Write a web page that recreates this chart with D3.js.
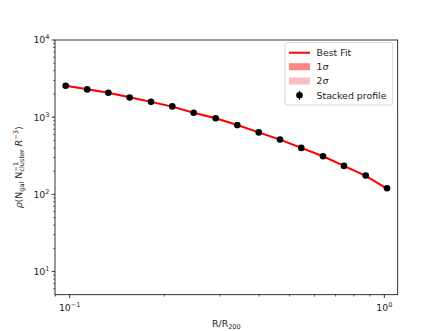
<!DOCTYPE html>
<html>
<head>
<meta charset="utf-8">
<script src="https://cdn.jsdelivr.net/npm/d3@7"></script>
<style>
  body { margin: 0; background: #fff; }
  svg { display: block; font-family: "DejaVu Sans", sans-serif; }
  text { white-space: pre; }
</style>
</head>
<body>
<div id="vis-container"></div>
<script>
// stacked profile
var radius = [0.0971, 0.1137, 0.1327, 0.1551, 0.1813, 0.2119, 0.2478, 0.2911,
              0.3409, 0.3989, 0.4661, 0.5446, 0.6385, 0.7443, 0.8727, 1.020];
var density = [2550, 2290, 2070, 1800, 1580, 1380, 1140, 970,
               790, 635, 515, 400, 312, 234, 176, 120];
var densityErr = [40, 35, 30, 25, 22, 20, 17, 14, 12, 10, 8, 7, 6, 5, 4, 3];
// best fit (the sigma bands are too narrow to see)
var fitValues = [2560, 2300, 2070, 1810, 1580, 1370, 1145, 970,
                 792, 636, 512, 400, 312, 234, 174, 119];
var band1 = 0.012;
var band2 = 0.025;
var xTicks = [0.1, 1];
var xTickExp = ["\u22121", "0"];
var yTicks = [10, 100, 1000, 10000];
var yTickExp = ["1", "2", "3", "4"];
var legendItems = ["Best Fit", "1\u03c3", "2\u03c3", "Stacked profile"];

var W = 431, H = 331;
var margin = {top: 40, right: 33.3, bottom: 36.3, left: 55};
var width = W - margin.left - margin.right,
    height = H - margin.top - margin.bottom;
var fs = 9.4;

var svg = d3.select("#vis-container").append("svg")
    .attr("width", W).attr("height", H);
var g = svg.append("g")
    .attr("transform", "translate(" + margin.left + "," + margin.top + ")");

var x = d3.scaleLog().domain([0.0898, 1.1031]).range([0, width]);
var y = d3.scaleLog().domain([5.02, 10000]).range([height, 0]);

// text with sub/superscripts, laid out piece by piece
function richText(parent, pieces, px, py, anchor) {
  var grp = parent.append("g");
  var cx = 0, stackStart = null, stackW = 0;
  pieces.forEach(function(p) {
    var size = p.s ? fs * 0.7 : fs;
    var dy = p.s === "sup" ? -fs * 0.42 : (p.s === "sub" ? fs * 0.22 : 0);
    var t = grp.append("text")
      .attr("font-size", size)
      .attr("y", dy)
      .attr("fill", "#262626")
      .attr("xml:space", "preserve")
      .style("font-style", p.it ? "italic" : "normal")
      .text(p.t);
    if (p.stack === "end") {
      t.attr("x", stackStart);
      var w = t.node().getComputedTextLength();
      cx = stackStart + Math.max(w, stackW);
      stackStart = null;
    } else {
      t.attr("x", cx);
      var w2 = p.t === " " ? size * 0.32 : t.node().getComputedTextLength();
      if (p.stack === "start") { stackStart = cx; stackW = w2; }
      cx += w2;
    }
  });
  var off = anchor === "middle" ? -cx / 2 : (anchor === "end" ? -cx : 0);
  grp.selectAll("text").attr("x", function() { return +d3.select(this).attr("x") + off; });
  grp.attr("transform", "translate(" + px + "," + py + ")");
  return grp;
}

// minor ticks
var xMinor = [];
[0.01, 0.1].forEach(function(b) { for (var i = 2; i <= 9; i++) xMinor.push(b * i); });
xMinor = xMinor.filter(function(v) { return v >= x.domain()[0] && v <= x.domain()[1]; });
var yMinor = [];
[1, 10, 100, 1000].forEach(function(b) { for (var i = 2; i <= 9; i++) yMinor.push(b * i); });
yMinor = yMinor.filter(function(v) { return v >= y.domain()[0] && v <= y.domain()[1]; });

g.selectAll(".xminor").data(xMinor).enter().append("line")
  .attr("x1", function(d) { return x(d); }).attr("x2", function(d) { return x(d); })
  .attr("y1", height).attr("y2", height + 1.9)
  .attr("stroke", "#000").attr("stroke-width", 0.6);
g.selectAll(".yminor").data(yMinor).enter().append("line")
  .attr("y1", function(d) { return y(d); }).attr("y2", function(d) { return y(d); })
  .attr("x1", 0).attr("x2", -1.9)
  .attr("stroke", "#000").attr("stroke-width", 0.6);

// major ticks
g.selectAll(".xmajor").data(xTicks).enter().append("line")
  .attr("x1", function(d) { return x(d); }).attr("x2", function(d) { return x(d); })
  .attr("y1", height).attr("y2", height + 3.3)
  .attr("stroke", "#000").attr("stroke-width", 0.8);
g.selectAll(".ymajor").data(yTicks).enter().append("line")
  .attr("y1", function(d) { return y(d); }).attr("y2", function(d) { return y(d); })
  .attr("x1", 0).attr("x2", -3.3)
  .attr("stroke", "#000").attr("stroke-width", 0.8);

xTicks.forEach(function(d, i) {
  richText(g, [{t: "10"}, {t: xTickExp[i], s: "sup"}], x(d), height + 16.5, "middle");
});
yTicks.forEach(function(d, i) {
  richText(g, [{t: "10"}, {t: yTickExp[i], s: "sup"}], -5.5, y(d) + 3.4, "end");
});

// sigma bands
var pts = radius.map(function(r, i) { return {r: r, f: fitValues[i]}; });
function band(k) {
  return d3.area()
    .x(function(d) { return x(d.r); })
    .y0(function(d) { return y(d.f * (1 - k)); })
    .y1(function(d) { return y(d.f * (1 + k)); });
}
g.append("path").datum(pts).attr("d", band(band2))
  .attr("fill", "#f08080").attr("opacity", 0.5);
g.append("path").datum(pts).attr("d", band(band1))
  .attr("fill", "#ff3333").attr("opacity", 0.6);

// best fit line
g.append("path").datum(pts)
  .attr("d", d3.line().x(function(d) { return x(d.r); }).y(function(d) { return y(d.f); }))
  .attr("fill", "none").attr("stroke", "#ff0000").attr("stroke-width", 2);

// stacked profile points with error bars
g.selectAll(".err").data(radius).enter().append("line")
  .attr("x1", function(d) { return x(d); }).attr("x2", function(d) { return x(d); })
  .attr("y1", function(d, i) { return y(density[i] - densityErr[i]); })
  .attr("y2", function(d, i) { return y(density[i] + densityErr[i]); })
  .attr("stroke", "#000").attr("stroke-width", 1);
g.selectAll(".pt").data(radius).enter().append("circle")
  .attr("cx", function(d) { return x(d); })
  .attr("cy", function(d, i) { return y(density[i]); })
  .attr("r", 3.3).attr("fill", "#000");

// frame
g.append("rect").attr("width", width).attr("height", height)
  .attr("fill", "none").attr("stroke", "#000").attr("stroke-width", 0.8);

// axis labels
richText(g, [{t: "R/R"}, {t: "200", s: "sub"}], width / 2, height + 32, "middle");
var yl = richText(svg, [
  {t: "\u03c1", it: true}, {t: "(N"}, {t: "gal", s: "sub"}, {t: " "}, {t: "N"},
  {t: "\u22121", s: "sup", stack: "start"}, {t: "cluster", s: "sub", stack: "end"},
  {t: " "}, {t: "R", it: true}, {t: "\u22123", s: "sup"}, {t: ")"}
], 0, 0, "middle");
yl.attr("transform", "translate(22," + (margin.top + height / 2) + ") rotate(-90)");

// legend
var lg = svg.append("g").attr("transform", "translate(285,42.7)");
lg.append("rect").attr("width", 107.7).attr("height", 62.3).attr("rx", 2)
  .attr("fill", "#fff").attr("fill-opacity", 0.8)
  .attr("stroke", "#cccccc").attr("stroke-width", 0.8);
var rowY = [10, 24, 38.3, 52.6];
lg.append("line").attr("x1", 4).attr("x2", 25).attr("y1", rowY[0]).attr("y2", rowY[0])
  .attr("stroke", "#ff0000").attr("stroke-width", 2);
lg.append("rect").attr("x", 4).attr("y", rowY[1] - 3.5).attr("width", 21).attr("height", 7)
  .attr("fill", "#ff3333").attr("opacity", 0.6);
lg.append("rect").attr("x", 4).attr("y", rowY[2] - 3.5).attr("width", 21).attr("height", 7)
  .attr("fill", "#f08080").attr("opacity", 0.5);
lg.append("line").attr("x1", 14.5).attr("x2", 14.5).attr("y1", rowY[3] - 4.5).attr("y2", rowY[3] + 4.5)
  .attr("stroke", "#000").attr("stroke-width", 1);
lg.append("circle").attr("cx", 14.5).attr("cy", rowY[3]).attr("r", 3.3).attr("fill", "#000");
legendItems.forEach(function(t, i) {
  var pieces;
  if (t.indexOf("\u03c3") >= 0) pieces = [{t: t[0]}, {t: "\u03c3", it: true}];
  else pieces = [{t: t}];
  richText(lg, pieces, 31.5, rowY[i] + 3.3, "start");
});
</script>
</body>
</html>
